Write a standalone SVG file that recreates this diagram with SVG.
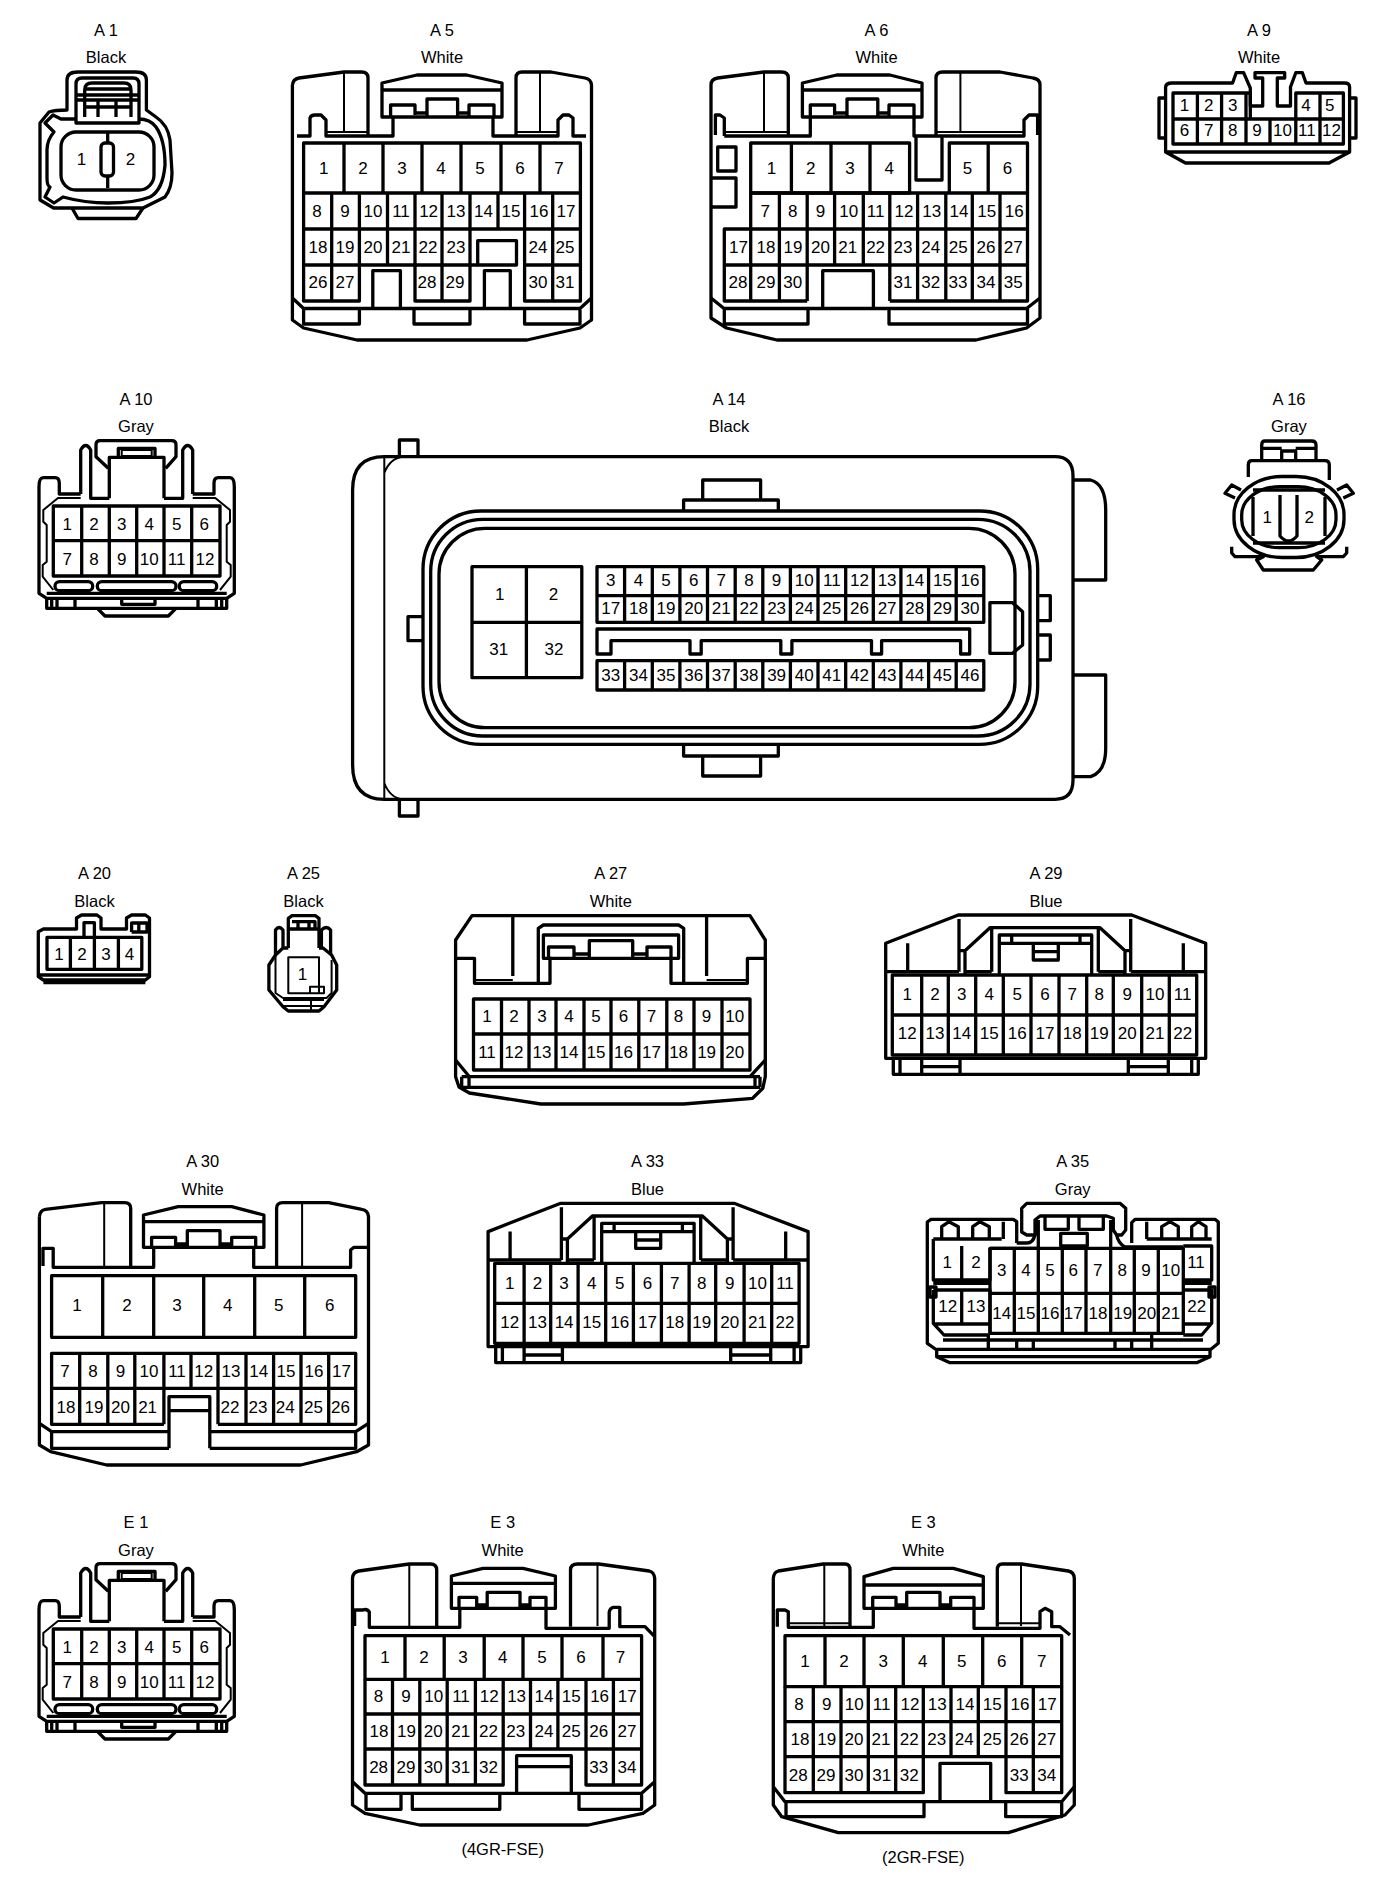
<svg xmlns="http://www.w3.org/2000/svg" width="1392" height="1882" viewBox="0 0 1392 1882">
<style>
path,rect{fill:none;stroke:#000;stroke-width:3.3;stroke-linejoin:round}
.t{stroke-width:2}
.bg{fill:#fff;stroke:none}
text{font-family:"Liberation Sans",Arial,sans-serif;fill:#000;text-anchor:middle}
.l text{font-size:16.5px}
.p text{font-size:17px}
</style>
<defs>
<g id="b12">
<path d="M53.3 506H220V576H53.3ZM53.3 540.7H220M81.7 506V576M109.3 506V576M136.7 506V576M164 506V576M191.7 506V576"/>
<path d="M108.3 468.3L96 456.7V445Q96 440.7 100 440.7H171.7Q176 440.7 176 445V456.7L165.7 468.3"/>
<path d="M109.3 498.3V457.3H118.3V448.3H155V457.3H164V498.3M118.3 457.3H155"/>
<path class="t" d="M121.7 450H151.700V456H121.700Z"/>
<path d="M80.700 494V450Q85.700 441 90.700 450V498.300H109.300M192.700 494V450Q187.700 441 182.700 450V498.300H164"/>
<path d="M80.700 494H59.300V483.300Q59.300 477.700 55 477.700H43.300Q39 477.700 39 486.700V593.300L46.700 598.300H226.700L234.300 593.300V486.700Q234.300 477.700 230 477.700H218.300Q214 477.700 214 483.300V494H192.700"/>
<path class="t" d="M80.700 498H58L43.300 510V521.700L46.700 525V561.700L42.700 565V576.700L53.300 590M192.700 498H215.300L230 510V521.700L226.700 525V561.700L230.700 565V576.700L220 590"/>
<rect x="55" y="581.700" width="37.700" height="9" rx="4.500"/><rect x="97.300" y="581.700" width="78.700" height="9" rx="4.500"/><rect x="179.300" y="581.700" width="37.400" height="9" rx="4.500"/>
<path d="M46.700 593.300H226.700M46.700 598.300V608.300H226.700V598.300M51.700 598.300V608.300M57 598.300V608.300M75 598.300V608.300M198 598.300V608.300M216.300 598.300V608.300M221.700 598.300V608.300M121.700 600V604.300H155V600M97.300 608.300L105 616H168.300L176 608.300"/>
</g>
<g id="b22">
<path d="M885.700 943.300L958.300 915H1131.700L1205.700 943.300V1058.300H885.700ZM885.700 971.700H959M1130.700 971.700H1205.700M907.700 943.300V971.700M1183.300 943.300V971.700M959 919V971.700M1130.700 919V971.700"/>
<path d="M965 975V950.700L990 927.700H1100L1125 950.700V975M991.700 927.700V971.700M1098.300 927.700V971.700M959 950.700H965M1125 950.700H1130.700M965 971.700H991.700M1098.300 971.700H1125"/>
<path d="M999.300 975V935H1091.700V975M999.300 943.300H1091.700M1011.700 935V943.300M1080 935V943.300M1033.300 943.300V960H1058.300V943.300M1033.300 951.700H1058.300"/>
<path d="M892.300 975H1196.700V1055H892.300ZM892.300 1015H1196.700M921.700 975V1055M948.300 975V1055M975.700 975V1055M1003.300 975V1055M1031 975V1055M1059 975V1055M1086.700 975V1055M1113.300 975V1055M1141.700 975V1055M1169.300 975V1055"/>
<path d="M893.300 1058.300V1074.300H1198.300V1058.300M900 1058.300V1074.300M921.700 1058.300V1074.300M960 1058.300V1074.300M1128.300 1058.300V1074.300M1168.300 1058.300V1074.300M1191.700 1058.300V1074.300M921.700 1066.700H960M1128.300 1066.700H1168.300"/>
</g>
</defs>
<rect class="bg" width="1392" height="1882"/>
<g id="connectors"/>

<g id="A1">
<path d="M67 110V80Q67 72 78 72H136Q146.400 72 146.400 80V110L156 117Q168 125 170 140L172 173Q172 188 165 197L143 208H53.600L40 200V123L49 112Q55 110 67 110Z"/>
<path d="M76 123V84Q76 78 82 78H133Q139 78 139 84V123ZM84.700 117V90Q84.700 83 92 83H124Q131 83 131 90V117M76 95H139M76 100H139M84.700 89H131M84.700 107H131M98 100V117M116 100V117"/>
<path d="M76 119H61L53 115L45 123L54 132Q47 140 47 150V178Q47 186 50 187L45 197L54 203L63 197Q85 203 108 203Q135 203 150 197Q163 190 165 165Q165 140 156 127Q150 119 139 119"/>
<rect x="61" y="132" width="93" height="58" rx="15"/>
<path d="M107.700 132V143M107.700 176V188"/><rect x="101" y="143" width="12.500" height="33" rx="4"/>
<path d="M72 208L78 218.500H136L143 208"/>
<g class="l"><text x="106" y="36">A 1</text><text x="106" y="62.500">Black</text></g>
<g class="p"><text x="81.500" y="165">1</text><text x="130.500" y="165">2</text></g>
</g>

<g id="A5">
<path d="M292.400 85Q293 79 299 78L344 72H361.600Q368 72 368 78V135M516 135V78Q516 72 522 72H551L585 78Q591 79 591.500 85V320L580 328L527 340H357L303.600 328L292.400 320V85"/>
<path d="M297 136H310V118Q311 115 315 115H321L326 120V136H393V117M493 117V136H558V120L563 115H569L573 118V136H586"/>
<path class="t" d="M326 132H368M516 132H558M344 72V132M540 72V132"/>
<path d="M382 117V83L417 75H466.500L502 83V117ZM382 90H502M390.600 117V105H415V115M427 117V99H457.600V117M469 117V105H494V117M415 113H427M457.600 113H469"/>
<path d="M303.600 143H580.400V193H303.600ZM344 143V193M383 143V193M422 143V193M461 143V193M501 143V193M540 143V193"/>
<path d="M303.600 193V301H359.400V265H303.600M303.600 229H580.400V193M331.700 193V301M359.400 193V265M387.500 193V265M415 193V301H470V193M442 193V301M359.400 265H477.700M498 193V229M524.600 193V301H580.400V229M552.700 193V301M524.600 265H580.400"/>
<path d="M477.700 240.700H516.500V265H477.700ZM372.800 307V270.700H400.400V307M484.400 307V270.700H510.300V307"/>
<path d="M292.400 298L303.600 308.500H580L591.500 298M303.600 308.500V324H359.400V308.500M414 308.500V324H470V308.500M524.600 308.500V324H580V308.500"/>
<g class="l"><text x="442" y="36">A 5</text><text x="442" y="62.500">White</text></g>
<g class="p"><text x="323.700" y="174">1</text><text x="363" y="174">2</text><text x="402" y="174">3</text><text x="441" y="174">4</text><text x="480" y="174">5</text><text x="520" y="174">6</text><text x="559" y="174">7</text>
<text x="317" y="217">8</text><text x="345" y="217">9</text><text x="373" y="217">10</text><text x="401" y="217">11</text><text x="428.600" y="217">12</text><text x="456" y="217">13</text><text x="483.500" y="217">14</text><text x="511" y="217">15</text><text x="539" y="217">16</text><text x="566" y="217">17</text>
<text x="318" y="253">18</text><text x="345" y="253">19</text><text x="373" y="253">20</text><text x="401" y="253">21</text><text x="428" y="253">22</text><text x="456" y="253">23</text><text x="538" y="253">24</text><text x="565" y="253">25</text>
<text x="318" y="288">26</text><text x="345" y="288">27</text><text x="427" y="288">28</text><text x="455" y="288">29</text><text x="538" y="288">30</text><text x="565" y="288">31</text></g>
</g>

<g id="A6">
<path d="M711 85Q711 79 717.700 78L764 72H781.600Q788.300 72 788.300 78V135M936 135V78Q936 72 942.700 72H1000L1033 78Q1040 79 1040 85V318L1026.600 328L976 340H777L726.500 328L711 318V85"/>
<path d="M724.300 136V118L720 115H715.400V135M724.300 136H810.300V117M914 117V136H1024V120L1029 115H1037.600V135"/>
<path class="t" d="M724.300 132H788.300M936 132H1024M764 72V132M960.400 72V132"/>
<path d="M802.400 117V83L836.800 75H889.800L922 83V117ZM802.400 90H922M810.300 117V105H834.600V115M847 117V99H877.800V117M889 117V105H914V117M834.600 113H847M877.800 113H889"/>
<path d="M916 136V180H942V136M717.700 147H736V171H717.700ZM711 178H736V207H711"/>
<path d="M750.700 143H909.600V193H750.700ZM791.400 143V193M831 143V193M870 143V193M949.300 193V143H1027.500V193M988.200 143V193"/>
<path d="M750.700 193H1027.500V265H724.300V229H1027.500M750.700 193V229M779.400 193V301M807.200 193V301M834.600 193V265M863.300 193V265M889.800 193V301M917.600 193V301M945.800 193V301M972.300 193V301M1000 193V301M750.700 229V301M724.300 265V301H807.200M889.800 301H1027.500V265"/>
<path d="M822.700 307V270.700H873.400V307"/>
<path d="M711 298L724 308.500H1026.600L1040 298M724.300 308.500V324H808V308.500M889 308.500V324H1027.500V308.500"/>
<g class="l"><text x="876.500" y="36">A 6</text><text x="876.500" y="62.500">White</text></g>
<g class="p"><text x="771.500" y="174">1</text><text x="810.800" y="174">2</text><text x="850" y="174">3</text><text x="889.300" y="174">4</text><text x="967.400" y="174">5</text><text x="1007.600" y="174">6</text>
<text x="765.300" y="217">7</text><text x="792.700" y="217">8</text><text x="820.500" y="217">9</text><text x="848.700" y="217">10</text><text x="875.600" y="217">11</text><text x="903.900" y="217">12</text><text x="931.700" y="217">13</text><text x="959" y="217">14</text><text x="986.800" y="217">15</text><text x="1014.200" y="217">16</text>
<text x="738.400" y="253">17</text><text x="766" y="253">18</text><text x="793" y="253">19</text><text x="820.500" y="253">20</text><text x="847.800" y="253">21</text><text x="875.600" y="253">22</text><text x="903" y="253">23</text><text x="930.800" y="253">24</text><text x="958.200" y="253">25</text><text x="986" y="253">26</text><text x="1013.300" y="253">27</text>
<text x="738" y="288">28</text><text x="766" y="288">29</text><text x="792.700" y="288">30</text><text x="903" y="288">31</text><text x="930.800" y="288">32</text><text x="958" y="288">33</text><text x="986" y="288">34</text><text x="1013.300" y="288">35</text></g>
</g>

<g id="A9">
<path d="M1165.600 152V87Q1166 83 1172 83H1232.600L1236.200 72.700H1243.600L1250.300 88V106H1262.700V78H1255V72.700H1284.700V78H1277.300V106H1290.500V87L1295.800 72.700H1302.400L1306 83H1344.300Q1349.600 83 1349.600 87V152ZM1165.600 152L1185.500 163H1329L1349.600 152M1165.600 98H1159V138H1165.600M1349.600 98H1356V138H1349.600"/>
<path d="M1250.300 119V93H1173V144H1343.400V93H1295.800V119ZM1173 119H1343.400M1197.400 93V144M1221.600 93V144M1246 93V144M1270 119V144M1295.800 93V144M1320 93V144"/>
<g class="l"><text x="1259" y="36">A 9</text><text x="1259" y="62.500">White</text></g>
<g class="p"><text x="1184.500" y="111">1</text><text x="1208.800" y="111">2</text><text x="1232.700" y="111">3</text><text x="1306" y="111">4</text><text x="1329.700" y="111">5</text>
<text x="1184.500" y="136">6</text><text x="1208.800" y="136">7</text><text x="1232.700" y="136">8</text><text x="1257" y="136">9</text><text x="1282.500" y="136">10</text><text x="1306.800" y="136">11</text><text x="1331.500" y="136">12</text></g>
</g>

<g id="A10"><use href="#b12"/>
<g class="l"><text x="136" y="404.500">A 10</text><text x="136" y="432">Gray</text></g>
<g class="p"><text x="67.300" y="529.500">1</text><text x="94" y="529.500">2</text><text x="121.700" y="529.500">3</text><text x="149.300" y="529.500">4</text><text x="176.700" y="529.500">5</text><text x="204.300" y="529.500">6</text>
<text x="67.300" y="564.500">7</text><text x="94" y="564.500">8</text><text x="121.700" y="564.500">9</text><text x="149.300" y="564.500">10</text><text x="176.700" y="564.500">11</text><text x="205" y="564.500">12</text></g>
</g>

<g id="A14">
<path d="M384.300 456.700H1055Q1073 456.700 1073 476V780Q1073 799.300 1055 799.300H384.300Q352.600 799.300 352.600 765V490Q352.600 456.700 384.300 456.700Z"/>
<path d="M384.300 456.700V799.300M384.300 473Q390 458 403 456.700M384.300 783Q390 798 403 799.300" class="t"/>
<path d="M399.400 456V440H418V456M399.400 799.300V816H418V799.300"/>
<path d="M1073 480H1090.600Q1105.700 484 1105.700 510V580H1073M1073 675H1105.700V748Q1105.700 772 1090.600 776.700H1073"/>
<path d="M702.700 500V480H760.600V500M683.600 511V500H778.300V511M683.600 745V756H778.300V745M702.700 756V776H760.600V756M423 616.700H408V640.700H423M1037.700 595.700H1050.300V620.700H1037.700M1037.700 635H1050.300V660H1037.700"/>
<rect x="423" y="511" width="614.700" height="233.300" rx="58"/><rect x="430.700" y="519.300" width="599.300" height="216.700" rx="52"/><rect x="439" y="528.300" width="576" height="199.400" rx="46"/>
<path d="M472 566.700H581.800V677.700H472ZM526.400 566.700V677.700M472 622.300H581.800"/>
<path d="M597 566.700H983.800V622.300H597ZM597 595.700H983.800M624.600 566.700V622.300M652.300 566.700V622.300M679.900 566.700V622.300M707.500 566.700V622.300M735.200 566.700V622.300M762.800 566.700V622.300M790.400 566.700V622.300M818 566.700V622.300M845.700 566.700V622.300M873.300 566.700V622.300M900.900 566.700V622.300M928.600 566.700V622.300M956.200 566.700V622.300"/>
<path d="M597 660.700H983.800V690H597ZM624.600 660.700V690M652.300 660.700V690M679.900 660.700V690M707.500 660.700V690M735.200 660.700V690M762.800 660.700V690M790.400 660.700V690M818 660.700V690M845.700 660.700V690M873.300 660.700V690M900.900 660.700V690M928.600 660.700V690M956.200 660.700V690"/>
<path d="M597 629H969.700V654H960.600V640.700H881.600V654H871.500V640.700H791.900V654H780.800V640.700H701.200V654H690V640.700H611V654H597Z"/>
<path d="M989.900 602.700H1012.500L1022.600 611.700V645L1012.500 653.300H989.900Z"/>
<g class="l"><text x="729" y="404.500">A 14</text><text x="729" y="432">Black</text></g>
<g class="p"><text x="499.700" y="600">1</text><text x="553.600" y="600">2</text><text x="498.700" y="655">31</text><text x="554" y="655">32</text>
<text x="610.800" y="586">3</text><text x="638.400" y="586">4</text><text x="666" y="586">5</text><text x="693.700" y="586">6</text><text x="721.300" y="586">7</text><text x="748.900" y="586">8</text><text x="776.600" y="586">9</text><text x="804.200" y="586">10</text><text x="831.800" y="586">11</text><text x="859.500" y="586">12</text><text x="887.100" y="586">13</text><text x="914.700" y="586">14</text><text x="942.400" y="586">15</text><text x="970" y="586">16</text>
<text x="610.800" y="614">17</text><text x="638.400" y="614">18</text><text x="666" y="614">19</text><text x="693.700" y="614">20</text><text x="721.300" y="614">21</text><text x="748.900" y="614">22</text><text x="776.600" y="614">23</text><text x="804.200" y="614">24</text><text x="831.800" y="614">25</text><text x="859.500" y="614">26</text><text x="887.100" y="614">27</text><text x="914.700" y="614">28</text><text x="942.400" y="614">29</text><text x="970" y="614">30</text>
<text x="610.800" y="681">33</text><text x="638.400" y="681">34</text><text x="666" y="681">35</text><text x="693.700" y="681">36</text><text x="721.300" y="681">37</text><text x="748.900" y="681">38</text><text x="776.600" y="681">39</text><text x="804.200" y="681">40</text><text x="831.800" y="681">41</text><text x="859.500" y="681">42</text><text x="887.100" y="681">43</text><text x="914.700" y="681">44</text><text x="942.400" y="681">45</text><text x="970" y="681">46</text></g>
</g>

<g id="A16">
<path d="M1261.700 460V445Q1261.700 441 1265 441H1311.700Q1316 441 1316 445V460M1261.700 448.300H1281.700M1295.700 448.300H1316M1281.700 460V451H1295.700V460"/>
<path d="M1248.300 477V465Q1248.300 460.700 1251.700 460.700H1325Q1329.300 460.700 1329.300 465V480"/>
<rect x="1234" y="476.500" width="110" height="81" rx="48" ry="38"/><rect x="1241.700" y="486.700" width="94.300" height="61" rx="38" ry="28"/>
<path d="M1253 497V536M1325 497V536M1253 490H1325M1253 543H1325"/>
<path d="M1280 495V536Q1288.500 546 1297 536V495"/>
<path d="M1235 498L1225 493.300L1231.700 485L1241 490M1343.300 498L1353.300 493.300L1346.700 485L1337 490M1231.700 546.700V553L1235 556.700H1263.300L1256.700 560L1263.300 570H1313.300L1321.700 560L1316.700 556.700H1343.300L1346.700 553V546.700"/>
<g class="l"><text x="1289" y="404.500">A 16</text><text x="1289" y="432">Gray</text></g>
<g class="p"><text x="1267.300" y="522.700">1</text><text x="1309.300" y="522.700">2</text></g>
</g>

<g id="A20">
<path d="M38.300 931.700L43.400 929H76.500V918L81.600 915H97L101 918V929H126.500V918L131.600 915H145.400L149.500 918V976.700L145.400 980H43.400L38.300 976.700Z"/>
<path d="M47 937.300H141.800V969.300H47ZM70.400 937.300V969.300M94.400 937.300V969.300M118.400 937.300V969.300M84 937V922.700H94.400V937M131.600 932V923H147V932H131.600M138.800 923V932M38.300 975H149.500M43.400 982.500H145.400"/>
<g class="l"><text x="94.500" y="878.500">A 20</text><text x="94.500" y="907">Black</text></g>
<g class="p"><text x="59" y="960">1</text><text x="82" y="960">2</text><text x="106" y="960">3</text><text x="129.600" y="960">4</text></g>
</g>

<g id="A25">
<path d="M288.300 948V918.300L292 915.700H315.300L319 918.300V948M288.300 929H319M292 921.700H315V928M298 921.700V928M309 921.700V928"/>
<path d="M283 948V930Q279 925 275.500 930V955M321.400 948V930Q326.500 925 330.600 930V955M283 948H288.300M319 948H323L331.600 955L336.700 965V990L324 1006.700L319 1011H288.300L283 1006.700L268.900 990V965L275.500 955L283 948"/>
<path d="M275.500 955V993L283 998H326.500L331.600 993V960M288.300 957.300H319V993.300H288.300ZM310 993.300V986.700H324V993.300H310M283 1000H324M283 1006H324M311 1000V1011" class="t"/>
<g class="l"><text x="303.500" y="878.500">A 25</text><text x="303.500" y="907">Black</text></g>
<g class="p"><text x="302.600" y="980">1</text></g>
</g>

<g id="A27">
<path d="M472 915.700H750L765.300 940V1076.700L762.800 1088.300L752.600 1098.300L683.700 1104H540.800L469.400 1093L459 1087L455.600 1076.700V940Z"/>
<path d="M512.800 916V976M706.600 916V976M456.600 958.300H474.500V983.300H550V956.700M765.300 958.300H747.400V983.300H671V956.700"/>
<path class="t" d="M474.500 980H512.800M706.600 980H747.400"/>
<path d="M538.300 983V928.300L543.400 925H678.600L683.700 928.300V983M543.400 958.300V935H678.600V958.300ZM548.500 958V947H574V958M589.300 957V940.700H632.700V957M647 958V947H671V958M574 954H589.300M632.700 954H647"/>
<path d="M473.500 999H750V1070H473.500ZM473.500 1034H750M501.500 999V1070M529 999V1070M556 999V1070M584 999V1070M611 999V1070M638.800 999V1070M666.800 999V1070M694 999V1070M722 999V1070"/>
<path d="M461.700 1076.700H760M461.700 1087.300H760M455.600 1060L469.400 1076.700M765.300 1060L750 1076.700M461.700 1076.700V1087.300M469 1076.700V1087.300M755 1076.700V1087.300M760 1076.700V1087.300"/>
<g class="l"><text x="610.800" y="878.500">A 27</text><text x="610.800" y="907">White</text></g>
<g class="p"><text x="487" y="1022">1</text><text x="514" y="1022">2</text><text x="542" y="1022">3</text><text x="569" y="1022">4</text><text x="596" y="1022">5</text><text x="623.500" y="1022">6</text><text x="651.500" y="1022">7</text><text x="678.600" y="1022">8</text><text x="706.600" y="1022">9</text><text x="734.700" y="1022">10</text>
<text x="487" y="1057.500">11</text><text x="514" y="1057.500">12</text><text x="542" y="1057.500">13</text><text x="569" y="1057.500">14</text><text x="596" y="1057.500">15</text><text x="623.500" y="1057.500">16</text><text x="651.500" y="1057.500">17</text><text x="678.600" y="1057.500">18</text><text x="706.600" y="1057.500">19</text><text x="734.700" y="1057.500">20</text></g>
</g>

<g id="A29"><use href="#b22"/>
<g class="l"><text x="1046" y="878.500">A 29</text><text x="1046" y="907">Blue</text></g>
<g class="p"><text x="907.300" y="1000">1</text><text x="935" y="1000">2</text><text x="961.700" y="1000">3</text><text x="989.300" y="1000">4</text><text x="1017.300" y="1000">5</text><text x="1045" y="1000">6</text><text x="1072.300" y="1000">7</text><text x="1099.300" y="1000">8</text><text x="1127.300" y="1000">9</text><text x="1155" y="1000">10</text><text x="1182.700" y="1000">11</text>
<text x="907.300" y="1039.300">12</text><text x="935" y="1039.300">13</text><text x="961.700" y="1039.300">14</text><text x="989.300" y="1039.300">15</text><text x="1017.300" y="1039.300">16</text><text x="1045" y="1039.300">17</text><text x="1072.300" y="1039.300">18</text><text x="1099.300" y="1039.300">19</text><text x="1127.300" y="1039.300">20</text><text x="1155" y="1039.300">21</text><text x="1182.700" y="1039.300">22</text></g>
</g>

<g id="A30">
<path d="M39.400 1216.700Q40 1210 45.500 1209.300L101.600 1202.700H124.600Q130.700 1203 130.700 1208.300V1266.700M276.600 1266.700V1208.300Q276.600 1203 282.800 1202.700H328.700L361.800 1209.300Q368 1210 368.500 1216.700V1445L356.700 1451.700L300.600 1465H106.700L50.600 1451.700L39.400 1445V1216.700"/>
<path d="M43 1266V1248.300H53.200V1267.300H153.700V1247.300M253.700 1247.300V1267.300H350.600V1250L354 1247.300H367"/>
<path class="t" d="M104.200 1202.700V1266M302.100 1202.700V1266"/>
<path d="M143.500 1247.300V1215L178.200 1206.700H231.700L263.900 1215V1247.300ZM143.500 1221.700H263.900M151.600 1247V1237.300H175.600V1247M187.300 1246.700V1230.700H220V1246.700M231.700 1247V1237.300H255.700V1247M175.600 1244H187.300M220 1244H231.700"/>
<path d="M51.600 1275.700H355.700V1337.300H51.600ZM102.700 1275.700V1337.300M153.700 1275.700V1337.300M203.700 1275.700V1337.300M254.700 1275.700V1337.300M304.700 1275.700V1337.300"/>
<path d="M51.600 1353.300H355.700V1388.300H51.600ZM79.700 1353.300V1424.300M107.800 1353.300V1424.300M134.800 1353.300V1424.300M163.900 1353.300V1424.300M191 1353.300V1388.300M218 1353.300V1424.300M246 1353.300V1424.300M273.600 1353.300V1424.300M301 1353.300V1424.300M328.700 1353.300V1424.300M51.600 1388.300V1424.300H163.900M218 1424.300H355.700V1388.300"/>
<path d="M169 1448.300V1396.700H209.800V1448.300M169 1410.700H209.800M39.400 1423.300L51.600 1431.700H169M368.500 1423.300L355.700 1431.700H209.800M51.600 1431.700V1448.300H169M355.700 1431.700V1448.300H209.800"/>
<g class="l"><text x="202.700" y="1166.700">A 30</text><text x="202.700" y="1194.500">White</text></g>
<g class="p"><text x="77" y="1311">1</text><text x="127" y="1311">2</text><text x="177" y="1311">3</text><text x="227.700" y="1311">4</text><text x="278.700" y="1311">5</text><text x="329.700" y="1311">6</text>
<text x="65" y="1376.700">7</text><text x="93" y="1376.700">8</text><text x="120.500" y="1376.700">9</text><text x="149" y="1376.700">10</text><text x="177" y="1376.700">11</text><text x="203.700" y="1376.700">12</text><text x="231" y="1376.700">13</text><text x="258.800" y="1376.700">14</text><text x="286" y="1376.700">15</text><text x="314" y="1376.700">16</text><text x="341.400" y="1376.700">17</text>
<text x="66" y="1412.700">18</text><text x="94" y="1412.700">19</text><text x="120.500" y="1412.700">20</text><text x="147.600" y="1412.700">21</text><text x="230" y="1412.700">22</text><text x="258" y="1412.700">23</text><text x="285.300" y="1412.700">24</text><text x="313.400" y="1412.700">25</text><text x="340.400" y="1412.700">26</text></g>
</g>

<g id="A33"><use href="#b22" x="-397.600" y="288.300"/>
<g class="l"><text x="647.500" y="1166.700">A 33</text><text x="647.500" y="1194.500">Blue</text></g>
<g class="p"><text x="509.800" y="1288.500">1</text><text x="537.400" y="1288.500">2</text><text x="564.100" y="1288.500">3</text><text x="591.700" y="1288.500">4</text><text x="619.700" y="1288.500">5</text><text x="647.400" y="1288.500">6</text><text x="674.700" y="1288.500">7</text><text x="701.700" y="1288.500">8</text><text x="729.700" y="1288.500">9</text><text x="757.400" y="1288.500">10</text><text x="785" y="1288.500">11</text>
<text x="509.800" y="1327.700">12</text><text x="537.400" y="1327.700">13</text><text x="564.100" y="1327.700">14</text><text x="591.700" y="1327.700">15</text><text x="619.700" y="1327.700">16</text><text x="647.400" y="1327.700">17</text><text x="674.700" y="1327.700">18</text><text x="701.700" y="1327.700">19</text><text x="729.700" y="1327.700">20</text><text x="757.400" y="1327.700">21</text><text x="785" y="1327.700">22</text></g>
</g>

<g id="A35">
<path d="M1016.700 1243V1221.700L1013.300 1219.300H931L927.300 1222V1343.300L936.700 1350V1356.700L950 1362.700H1196.700L1210 1356.700V1350L1218.300 1343.300V1222L1215 1219.300H1135L1131.700 1222.700V1243"/>
<path d="M1026.700 1235L1021.700 1232V1208.300L1026.700 1203.300H1120L1125.700 1208.300V1230L1121.700 1235H1116.700L1113.300 1230V1218.300L1106.700 1216H1040L1035 1220V1235ZM1045 1216H1068.300V1229.300H1045ZM1079 1216H1103.300V1229.300H1079ZM1060.700 1233.300H1087.300V1246H1060.700ZM1038.300 1220V1248.300M1110.700 1220V1248.300"/>
<path d="M941.700 1238.300V1226.700L949 1221.700L958.300 1226.700V1238.300M972.700 1238.300V1226.700L980 1221.700L989.300 1226.700V1238.300M1003.300 1221.700V1239M1161.700 1238.300V1226.700L1170 1221.700L1178.300 1226.700V1238.300M1191.700 1238.300V1226.700L1198.300 1221.700L1206 1226.700V1238.300M1146.700 1221.700V1239"/>
<path d="M933.300 1239H1001.700M1146.700 1239H1211.700M1016.700 1243H1027Q1033 1243 1035 1235M1116.700 1235Q1118 1243 1125 1247H1183.300"/>
<path d="M990 1248.300H1038.300M933.300 1239V1280H990V1248M933.300 1283.300H990M961.700 1246V1280M933.300 1290H990V1333M933.300 1290V1323.300L944 1335H990M961.700 1290V1324M933.300 1324H990"/>
<path d="M1183.300 1246H1211.700V1280H1183.300M1183.300 1283.300H1211.700M1183.300 1290H1211.700V1323.300L1201.700 1335H1183.300M1183.300 1324H1211.700"/>
<path d="M990 1248.300H1183.300V1333.300H990ZM990 1293.300H1183.300M1014.300 1248.300V1333.300M1038.300 1248.300V1333.300M1062.300 1248.300V1333.300M1086 1248.300V1333.300M1110.700 1248.300V1333.300M1134.300 1248.300V1333.300M1158.300 1248.300V1333.300"/>
<path d="M943 1340H1203M936.700 1349.300H1210M936.700 1356.700H1210M988.300 1335V1349M1151.700 1335V1349M1016.700 1340V1349M1033.300 1340V1349M1115 1340V1349M1131.700 1340V1349M930 1287H936V1297H930ZM1209 1287H1215V1297H1209Z"/>
<g class="l"><text x="1072.700" y="1166.700">A 35</text><text x="1072.700" y="1194.500">Gray</text></g>
<g class="p"><text x="947.300" y="1267.700">1</text><text x="976" y="1267.700">2</text><text x="1196" y="1267.700">11</text><text x="947.700" y="1311.700">12</text><text x="976" y="1311.700">13</text><text x="1196.700" y="1311.700">22</text>
<text x="1001.700" y="1276">3</text><text x="1026" y="1276">4</text><text x="1050" y="1276">5</text><text x="1073.300" y="1276">6</text><text x="1097.700" y="1276">7</text><text x="1122.300" y="1276">8</text><text x="1146" y="1276">9</text><text x="1170.700" y="1276">10</text>
<text x="1001.700" y="1318.700">14</text><text x="1026" y="1318.700">15</text><text x="1050" y="1318.700">16</text><text x="1073.300" y="1318.700">17</text><text x="1098" y="1318.700">18</text><text x="1122.700" y="1318.700">19</text><text x="1146.700" y="1318.700">20</text><text x="1170.700" y="1318.700">21</text></g>
</g>

<g id="E1"><use href="#b12" y="1123"/>
<g class="l"><text x="136" y="1527.700">E 1</text><text x="136" y="1556">Gray</text></g>
<g class="p"><text x="67.300" y="1652.500">1</text><text x="94" y="1652.500">2</text><text x="121.700" y="1652.500">3</text><text x="149.300" y="1652.500">4</text><text x="176.700" y="1652.500">5</text><text x="204.300" y="1652.500">6</text>
<text x="67.300" y="1687.500">7</text><text x="94" y="1687.500">8</text><text x="121.700" y="1687.500">9</text><text x="149.300" y="1687.500">10</text><text x="176.700" y="1687.500">11</text><text x="205" y="1687.500">12</text></g>
</g>

<g id="E3-4GR">
<path d="M352.500 1578.300Q353 1572 358.800 1571L409.300 1564H430.400Q436.700 1564 436.700 1570V1626.700M570.500 1626.700V1570Q570.500 1564 577.700 1564H598.700L649.200 1571Q654 1572 654.700 1578.300V1805L642.900 1813.300L588.200 1825H419.800L365 1813.300L352.500 1805V1578.300"/>
<path d="M354.600 1626V1610H363Q367 1608.500 369.300 1612V1627.300H459.800V1608.300M546 1608.300V1628.300H609.200V1612Q610 1608 613.400 1607.300H619.800V1626.700H645L654.700 1636.700"/>
<path class="t" d="M409.300 1564V1626M597.500 1564V1626"/>
<path d="M451.400 1608.300V1576L483 1568.300H523L555.400 1576V1608.300ZM451.400 1583.300H555.400M459 1608V1597.300H476.700V1608M487.200 1606.700V1592.300H520V1606.700M530 1608V1597.300H546V1608M476.700 1605H487.200M520 1605H530"/>
<path d="M365 1635.700H641.600V1679.300H365ZM405 1635.700V1679.300M444.200 1635.700V1679.300M484.200 1635.700V1679.300M523 1635.700V1679.300M562 1635.700V1679.300M603 1635.700V1679.300"/>
<path d="M365 1679.300V1785H503.200V1679.300M365 1714H641.600M365 1749H641.600M641.600 1679.300V1785H586V1679.300M392.500 1679.300V1785M419.800 1679.300V1785M447.200 1679.300V1785M475.400 1679.300V1785M530.500 1679.300V1749M557.900 1679.300V1749M613.400 1679.300V1785"/>
<path d="M516.600 1793V1755.700H571.300V1793M516.600 1766.700H571.300M352.500 1781.700L365 1793.300H641.600L654.700 1781.700M366 1793.300V1809.300H401V1793.300M412.300 1793.300V1809.300H499.800V1793.300M579 1793.300V1809.300H641.600V1793.300"/>
<g class="l"><text x="502.700" y="1527.700">E 3</text><text x="502.700" y="1556">White</text><text x="502.700" y="1855">(4GR-FSE)</text></g>
<g class="p"><text x="385" y="1662.700">1</text><text x="424" y="1662.700">2</text><text x="463" y="1662.700">3</text><text x="502.700" y="1662.700">4</text><text x="542" y="1662.700">5</text><text x="581" y="1662.700">6</text><text x="620.600" y="1662.700">7</text>
<text x="378.600" y="1702">8</text><text x="406" y="1702">9</text><text x="433.700" y="1702">10</text><text x="461" y="1702">11</text><text x="489.300" y="1702">12</text><text x="516.600" y="1702">13</text><text x="544" y="1702">14</text><text x="571.300" y="1702">15</text><text x="599.600" y="1702">16</text><text x="627.300" y="1702">17</text>
<text x="379" y="1737">18</text><text x="406.400" y="1737">19</text><text x="433.300" y="1737">20</text><text x="460.700" y="1737">21</text><text x="488.500" y="1737">22</text><text x="515.800" y="1737">23</text><text x="544" y="1737">24</text><text x="571.300" y="1737">25</text><text x="598.700" y="1737">26</text><text x="627" y="1737">27</text>
<text x="378.600" y="1772.700">28</text><text x="406" y="1772.700">29</text><text x="433.300" y="1772.700">30</text><text x="460.700" y="1772.700">31</text><text x="488.500" y="1772.700">32</text><text x="598.700" y="1772.700">33</text><text x="627" y="1772.700">34</text></g>
</g>

<g id="E3-2GR">
<path d="M773.300 1578.300Q774 1572 778.300 1571L823.300 1564H845Q850 1564 850 1570V1626.700M997.300 1626.700V1570Q997.300 1564 1002.300 1564H1021.700L1068.300 1571Q1074 1572 1074.300 1578.300V1805L1065 1815L1008.300 1832.700H838.300L781.700 1816.700L773.300 1805V1578.300"/>
<path d="M777.300 1626.700V1610H785L788.300 1611.700V1627.300H873.300V1608.300M974 1608.300V1628.300H1040V1611.700L1045 1608.300L1051.700 1611.700V1626.700H1060L1070 1635"/>
<path class="t" d="M824.300 1564V1626M1021 1564V1626M788.300 1623.300H850M997.300 1623.300H1040"/>
<path d="M864 1608.300V1576.700L893.300 1568.300H953.300L983.300 1576.700V1608.300ZM864 1585H983.300M872.700 1608V1597.300H896V1608M906.700 1606.700V1592.300H940V1606.700M950.700 1608V1597.300H974V1608M896 1605H906.700M940 1605H950.700"/>
<path d="M785 1635.700H1061.700V1686.700H785ZM825 1635.700V1686.700M864 1635.700V1686.700M903.300 1635.700V1686.700M943.300 1635.700V1686.700M982.700 1635.700V1686.700M1021.700 1635.700V1686.700"/>
<path d="M785 1686.700V1792.700H923.300V1686.700M785 1721.700H1061.700M785 1756.700H1061.700M1061.700 1686.700V1792.700H1006V1686.700M813.300 1686.700V1792.700M841 1686.700V1792.700M868.300 1686.700V1792.700M895.700 1686.700V1792.700M951 1686.700V1756.700M978.300 1686.700V1756.700M1033.300 1686.700V1792.700"/>
<path d="M940 1801.700V1763.300H990.700V1801.700M773.300 1786.700L785 1801.700H1061.700L1074.300 1786.700M786 1801.700V1816.700H924V1801.700M1005.700 1801.700V1816.700H1061.700V1801.700"/>
<g class="l"><text x="923.300" y="1527.700">E 3</text><text x="923.300" y="1556">White</text><text x="923.300" y="1863">(2GR-FSE)</text></g>
<g class="p"><text x="805" y="1667">1</text><text x="844" y="1667">2</text><text x="883.300" y="1667">3</text><text x="922.700" y="1667">4</text><text x="961.700" y="1667">5</text><text x="1001.700" y="1667">6</text><text x="1041.700" y="1667">7</text>
<text x="799" y="1710">8</text><text x="826.700" y="1710">9</text><text x="854.300" y="1710">10</text><text x="881.700" y="1710">11</text><text x="910" y="1710">12</text><text x="937.300" y="1710">13</text><text x="965" y="1710">14</text><text x="992.300" y="1710">15</text><text x="1020" y="1710">16</text><text x="1047.300" y="1710">17</text>
<text x="800" y="1745">18</text><text x="826.700" y="1745">19</text><text x="854" y="1745">20</text><text x="881" y="1745">21</text><text x="909.300" y="1745">22</text><text x="936.700" y="1745">23</text><text x="964.300" y="1745">24</text><text x="992.300" y="1745">25</text><text x="1019.300" y="1745">26</text><text x="1046.700" y="1745">27</text>
<text x="798.300" y="1781">28</text><text x="826" y="1781">29</text><text x="854" y="1781">30</text><text x="881.700" y="1781">31</text><text x="909.300" y="1781">32</text><text x="1019.300" y="1781">33</text><text x="1046.700" y="1781">34</text></g>
</g>
</svg>
